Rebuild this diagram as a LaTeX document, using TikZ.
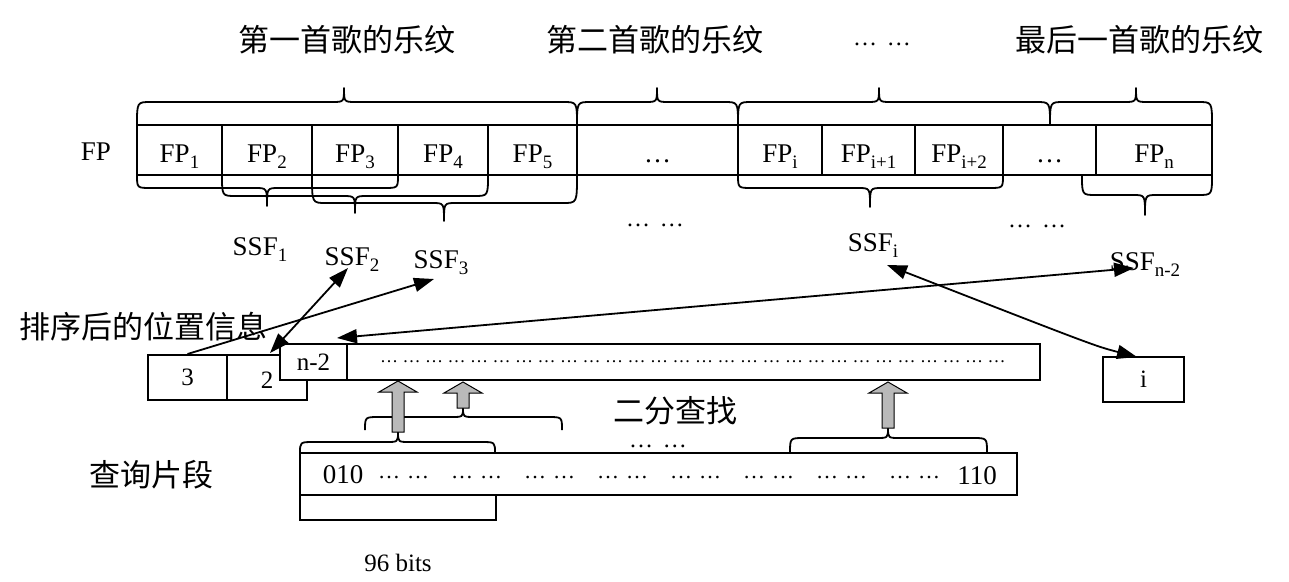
\documentclass[tikz,border=0pt]{standalone}
\usepackage{fontspec}
\setmainfont{Liberation Serif}
\newfontfamily\cjk{Noto Sans CJK SC}
\usetikzlibrary{arrows.meta}
% lowered subscript
\newcommand\lowsub[1]{\raisebox{-6pt}{\fontsize{19}{19}\selectfont #1}}
% curly brace: x1, x2, y at ends, y of bar, x of tip, y of tip
\newcommand\hbrace[6]{\draw[brc] (#1,#3) .. controls (#1,#4) .. ({#1+14},#4) -- ({#5-12},#4) .. controls (#5,#4) .. (#5,#6) .. controls (#5,#4) .. ({#5+12},#4) -- ({#2-14},#4) .. controls (#2,#4) .. (#2,#3);}
% fat hollow arrow: x, y bottom, y tip
\newcommand\fatarrow[3]{\filldraw[fat] ({#1-6},#2) -- ({#1-6},{#3+11}) -- ({#1-19},{#3+11}) -- (#1,#3) -- ({#1+19},{#3+11}) -- ({#1+6},{#3+11}) -- ({#1+6},#2) -- cycle;}
\begin{document}
\begin{tikzpicture}[x=1pt,y=-1pt,
  brc/.style={line width=1.8pt, line join=round},
  fat/.style={draw=black, line width=1pt, fill=gray!55},
  lat/.style={font=\fontsize{27}{30}\selectfont, inner sep=0pt},
  sm/.style={font=\fontsize{25}{28}\selectfont, inner sep=0pt},
  cj/.style={font=\cjk\fontsize{31}{34}\selectfont, inner sep=0pt},
  dotlab/.style={font=\fontsize{24}{24}\selectfont, inner sep=0pt, text height=6pt, text depth=0pt},
  cell/.style={draw, line width=2pt, minimum height=50pt, inner sep=0pt, text height=24pt, text depth=0pt, font=\fontsize{27}{30}\selectfont},
  bx/.style={draw, line width=2pt, inner sep=0pt, font=\fontsize{25}{28}\selectfont},
  conn/.style={line width=1.8pt, -{Triangle[length=20pt,width=14pt]}},
  dconn/.style={line width=1.8pt, {Triangle[length=20pt,width=14pt]}-{Triangle[length=20pt,width=14pt]}}
]
\useasboundingbox (0,0) rectangle (1289,581);

% titles
\node[cj] (t1) at (347,40) {第一首歌的乐纹};
\node[cj] (t2) at (655,40) {第二首歌的乐纹};
\node[dotlab] (t3) at (882,42) {…\hspace{10pt}…};
\node[cj] (t4) at (1139,40) {最后一首歌的乐纹};

% top braces
\hbrace{137}{577}{125}{102}{344}{88}
\hbrace{577}{738}{125}{102}{657}{88}
\hbrace{738}{1050}{125}{102}{879}{88}
\hbrace{1050}{1212}{125}{102}{1136}{88}

% FP row
\node[lat] (fplab) at (96,152) {FP};
\node[cell, minimum width=85pt] (fp1) at (179.5,150) {FP\lowsub{1}};
\node[cell, minimum width=90pt] (fp2) at (267,150) {FP\lowsub{2}};
\node[cell, minimum width=86pt] (fp3) at (355,150) {FP\lowsub{3}};
\node[cell, minimum width=90pt] (fp4) at (443,150) {FP\lowsub{4}};
\node[cell, minimum width=89pt] (fp5) at (532.5,150) {FP\lowsub{5}};
\node[cell, minimum width=161pt] (fpd1) at (657.5,150) {…};
\node[cell, minimum width=84pt] (fpi) at (780,150) {FP\lowsub{i}};
\node[cell, minimum width=93pt] (fpi1) at (868.5,150) {FP\lowsub{i+1}};
\node[cell, minimum width=88pt] (fpi2) at (959,150) {FP\lowsub{i+2}};
\node[cell, minimum width=93pt] (fpd2) at (1049.5,150) {…};
\node[cell, minimum width=116pt] (fpn) at (1154,150) {FP\lowsub{n}};

% lower braces
\hbrace{137}{398}{175}{188}{267}{206}
\hbrace{222}{488}{175}{196}{355}{213}
\hbrace{312}{577}{175}{203}{444}{221}
\hbrace{738}{1003}{175}{188}{870}{207}
\hbrace{1082}{1212}{175}{195}{1145}{215}

\node[dotlab] (d1) at (655,223) {…\hspace{10pt}…};
\node[dotlab] (d2) at (1037,224) {…\hspace{10pt}…};

% SSF labels
\node[lat] (ssf1) at (260,250) {SSF\lowsub{1}};
\node[lat] (ssf2) at (352,260) {SSF\lowsub{2}};
\node[lat] (ssf3) at (441,263) {SSF\lowsub{3}};
\node[lat] (ssfi) at (873,246) {SSF\lowsub{i}};
\node[lat] (ssfn) at (1145,265) {SSF\lowsub{n-2}};

% sorted positions
\node[cj] (pos) at (143,327) {排序后的位置信息};
\node[bx, minimum width=79pt, minimum height=45pt] (b3) at (187.5,377.5) {3};
\node[bx, minimum width=80pt, minimum height=45pt, text height=22pt, text depth=0pt] (b2) at (267,377.5) {2};
\node[bx, fill=white, minimum width=67pt, minimum height=36pt] (bn2) at (313.5,362) {n-2};
\node[bx, fill=white, minimum width=693pt, minimum height=36pt] (blong) at (693.5,362) {};
\node[anchor=west, font=\fontsize{18}{18}\selectfont, inner sep=0pt] (ldots) at (380,362)
  {\foreach \k in {1,...,28}{…\hspace{4.5pt}}};
\node[bx, minimum width=81pt, minimum height=45pt] (bi) at (1143.5,379.5) {i};

% query segment
\node[bx, minimum width=717pt, minimum height=42pt] (qbox) at (658.5,474) {};
\node[lat] (q010) at (343,475) {010};
\node[lat] (q110) at (977,476) {110};
\node[anchor=west, font=\fontsize{22}{22}\selectfont, inner sep=0pt] (qdots) at (378,478)
  {\foreach \k in {1,...,8}{…\hspace{7pt}…\hspace{22pt}}};
\draw[line width=2pt] (300,495) -- (300,520) -- (496,520) -- (496,495);

\hbrace{300}{495}{453}{442}{398}{432}
\hbrace{365}{562}{430}{417}{463}{408}
\hbrace{790}{987}{453}{438}{888}{428}

\fatarrow{398}{432}{381}
\fatarrow{463}{408}{382}
\fatarrow{888}{428}{382}

\node[cj] (bs) at (675,411) {二分查找};
\node[dotlab] (d3) at (658,444) {…\hspace{10pt}…};
\node[cj] (qlab) at (151,475) {查询片段};
\node[sm] (bits) at (398,563) {96 bits};

% connectors
\coordinate (s3tip) at (434,279);
\coordinate (s2tip) at (348,268);
\coordinate (b2tip) at (270,353);
\coordinate (n2tip) at (337,338);
\coordinate (sntip) at (1134,268);
\coordinate (sitip) at (887,265);
\coordinate (bitip) at (1137,357);
\draw[conn] (b3.north) -- (s3tip);
\draw[dconn] (b2tip) -- (s2tip);
\draw[dconn] (n2tip) -- (sntip);
\draw[dconn] (sitip) .. controls (1095,346) .. (bitip);
\end{tikzpicture}
\end{document}
